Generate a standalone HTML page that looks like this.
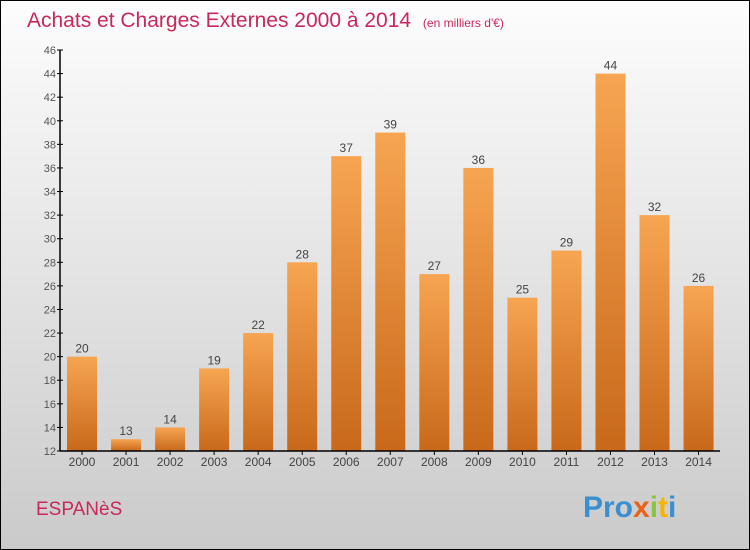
<!DOCTYPE html>
<html><head><meta charset="utf-8"><style>
body{margin:0;width:750px;height:550px;overflow:hidden;font-family:"Liberation Sans",sans-serif}
svg{display:block}
</style></head><body>
<svg width="750" height="550">
<defs>
<linearGradient id="bg" x1="0" y1="0" x2="0" y2="1"><stop offset="0" stop-color="#fdfdfd"/><stop offset="1" stop-color="#cacaca"/></linearGradient>
<linearGradient id="bar" x1="0" y1="0" x2="0" y2="1"><stop offset="0" stop-color="#f7a552"/><stop offset="1" stop-color="#c8691a"/></linearGradient>
</defs>
<rect x="0.5" y="0.5" width="749" height="549" fill="url(#bg)" stroke="#000"/>
<text x="27" y="27" font-size="21" fill="#c8285a">Achats et Charges Externes 2000 à 2014 <tspan font-size="12" dx="6">(en milliers d'€)</tspan></text>
<text x="36" y="515" font-size="19" fill="#c8285a">ESPANèS</text>
<text x="583" y="517" font-size="30" font-weight="bold" fill="#3a8fd0">Pro<tspan fill="#e8621a">x</tspan><tspan fill="#8bc53f">i</tspan><tspan fill="#f4b400">t</tspan><tspan fill="#3a8fd0">i</tspan></text>
<g id="plot"></g>
</svg>
<script>
const years=["2000","2001","2002","2003","2004","2005","2006","2007","2008","2009","2010","2011","2012","2013","2014"];
const values=[20,13,14,19,22,28,37,39,27,36,25,29,44,32,26];
const yTicks=[12,14,16,18,20,22,24,26,28,30,32,34,36,38,40,42,44,46];
const NS="http://www.w3.org/2000/svg";
const g=document.getElementById('plot');
const y0=451,y1=50,vmin=12,vmax=46;
const y=v=>y0-(v-vmin)*(y0-y1)/(vmax-vmin);
const x=i=>82+i*44.04;
function mk(t,a){const e=document.createElementNS(NS,t);for(const k in a)e.setAttribute(k,a[k]);g.appendChild(e);return e;}
yTicks.forEach(v=>{
 const l=mk('line',{x1:57,x2:63,y1:y(v),y2:y(v),stroke:'#000'});
 
 
 const t=mk('text',{x:56,y:y(v)+4,'text-anchor':'end','font-size':11,fill:'#555'});
 t.textContent=v;
 
 
});
values.forEach((v,i)=>{
 const r=mk('rect',{x:x(i)-15,y:y(v),width:30,height:y0-y(v),fill:'url(#bar)'});
 
 
 const t=mk('text',{x:x(i),y:y(v)-4,'text-anchor':'middle','font-size':12,fill:'#444'});
 t.textContent=v;
 
 
 const k=mk('line',{x1:x(i),x2:x(i),y1:y0,y2:y0+4,stroke:'#000'});
 
 
 const xl=mk('text',{x:x(i),y:y0+15,'text-anchor':'middle','font-size':12,fill:'#444'});
 xl.textContent=years[i];
 
 
});
const ya=mk('line',{x1:60,x2:60,y1:y1,y2:y0,stroke:'#000','stroke-width':1.5});


const xa=mk('line',{x1:60,x2:720,y1:y0,y2:y0,stroke:'#000','stroke-width':1.5});


</script>
</body></html>
